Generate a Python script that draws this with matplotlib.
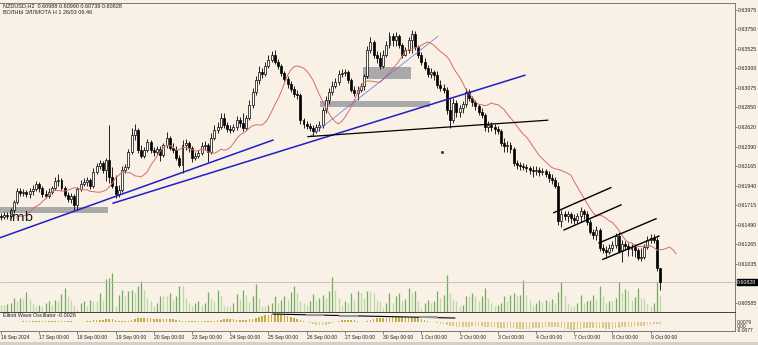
import matplotlib
matplotlib.use('Agg')
import matplotlib.pyplot as plt
import numpy as np
import pandas as pd
from matplotlib.patches import Rectangle

plt.rcParams['font.family'] = ['Liberation Sans', 'DejaVu Sans']

# NZDUSD H2, 16 Sep 2024 00:00 .. 9 Oct 2024 06:00 (12 bars a day)
opens = [
    .6159, .6158, .6160, .6159, .6166, .6175, .6188, .6186, .6187, .6185, .6188, .6190,
    .6196, .6192, .6185, .6182, .6187, .6192, .6200, .6201, .6192, .6183, .6179, .6182,
    .6172, .6190, .6196, .6199, .6201, .6194, .6210, .6217, .6221, .6212, .6224, .6204,
    .6194, .6185, .6189, .6212, .6216, .6233, .6253, .6259, .6236, .6229, .6236, .6245,
    .6236, .6233, .6237, .6230, .6241, .6249, .6238, .6236, .6226, .6218, .6241, .6244,
    .6238, .6226, .6229, .6232, .6240, .6241, .6233, .6249, .6259, .6262, .6273, .6264,
    .6260, .6259, .6262, .6270, .6267, .6261, .6273, .6288, .6303, .6317, .6326, .6323,
    .6333, .6340, .6345, .6337, .6333, .6325, .6318, .6312, .6306, .6300, .6299, .6270,
    .6266, .6263, .6261, .6258, .6262, .6264, .6282, .6293, .6303, .6310, .6314, .6323,
    .6325, .6326, .6317, .6305, .6302, .6305, .6310, .6321, .6351, .6361, .6345, .6342,
    .6333, .6345, .6357, .6367, .6363, .6367, .6357, .6345, .6351, .6363, .6370, .6355,
    .6345, .6337, .6330, .6323, .6326, .6322, .6311, .6307, .6305, .6282, .6270, .6290,
    .6280, .6284, .6289, .6303, .6296, .6291, .6286, .6280, .6276, .6262, .6264, .6262,
    .6260, .6258, .6244, .6240, .6241, .6237, .6221, .6218, .6217, .6216, .6215, .6212,
    .6211, .6212, .6210, .6211, .6208, .6203, .6201, .6194, .6153, .6162, .6159, .6162,
    .6157, .6155, .6159, .6165, .6162, .6152, .6141, .6137, .6143, .6122, .6120, .6118,
    .6122, .6126, .6136, .6119, .6127, .6124, .6121, .6123, .6120, .6111, .6112, .6123,
    .6131, .6134, .6131, .60988,
]
highs = [
    .6163, .6164, .6164, .6168, .6178, .6192, .6192, .6190, .6189, .6192, .6195, .6200,
    .6199, .6194, .6189, .6192, .6194, .6204, .6208, .6203, .6194, .6187, .6186, .6185,
    .6193, .6201, .6203, .6204, .6203, .6215, .6221, .6224, .6223, .6226, .6264, .6216,
    .6207, .6195, .6217, .6219, .6237, .6261, .6266, .6261, .6241, .6239, .6248, .6247,
    .6239, .6240, .6240, .6244, .6256, .6252, .6244, .6240, .6230, .6247, .6248, .6246,
    .6240, .6233, .6236, .6245, .6246, .6244, .6255, .6264, .6268, .6278, .6278, .6268,
    .6264, .6266, .6275, .6274, .6278, .6276, .6293, .6307, .6321, .6333, .6330, .6337,
    .6345, .6350, .6351, .6341, .6335, .6327, .6321, .6315, .6310, .6305, .6302, .6273,
    .6269, .6267, .6264, .6266, .6269, .6285, .6298, .6307, .6315, .6319, .6328, .6329,
    .6329, .6328, .6319, .6310, .6310, .6313, .6323, .6356, .6366, .6363, .6350, .6349,
    .6351, .6362, .6372, .6371, .6372, .6370, .6359, .6355, .6366, .6374, .6373, .6357,
    .6349, .6342, .6334, .6330, .6328, .6327, .6317, .6312, .6308, .6296, .6296, .6293,
    .6288, .6292, .6307, .6306, .6298, .6293, .6289, .6284, .6278, .6269, .6268, .6266,
    .6263, .6260, .6249, .6246, .6245, .6239, .6224, .6222, .6221, .6219, .6217, .6217,
    .6217, .6216, .6215, .6214, .6211, .6208, .6204, .6199, .6166, .6165, .6165, .6164,
    .6162, .6163, .6170, .6167, .6165, .6156, .6144, .6148, .6145, .6127, .6124, .6127,
    .6130, .6140, .6141, .6131, .6130, .6128, .6127, .6127, .6122, .6122, .6127, .6136,
    .6138, .6138, .6135, .60990,
]
lows = [
    .6155, .6156, .6156, .6157, .6163, .6173, .6182, .6182, .6181, .6180, .6183, .6188,
    .6187, .6181, .6180, .6180, .6185, .6189, .6194, .6189, .6181, .6175, .6174, .6166,
    .6166, .6188, .6194, .6194, .6190, .6192, .6208, .6214, .6209, .6200, .6197, .6192,
    .6180, .6181, .6187, .6209, .6214, .6231, .6247, .6232, .6226, .6226, .6233, .6232,
    .6229, .6230, .6223, .6227, .6238, .6236, .6232, .6224, .6216, .6209, .6236, .6233,
    .6222, .6224, .6226, .6230, .6236, .6222, .6231, .6247, .6255, .6260, .6261, .6256,
    .6255, .6256, .6259, .6262, .6258, .6259, .6270, .6284, .6299, .6312, .6319, .6321,
    .6330, .6337, .6335, .6329, .6321, .6315, .6307, .6303, .6297, .6295, .6266, .6261,
    .6260, .6258, .6252, .6255, .6258, .6261, .6278, .6289, .6299, .6307, .6311, .6320,
    .6321, .6313, .6303, .6298, .6293, .6303, .6305, .6319, .6348, .6342, .6336, .6329,
    .6330, .6343, .6354, .6356, .6356, .6354, .6342, .6344, .6348, .6348, .6351, .6342,
    .6334, .6328, .6320, .6319, .6317, .6307, .6304, .6302, .6277, .6261, .6267, .6274,
    .6274, .6278, .6285, .6292, .6286, .6282, .6276, .6273, .6258, .6256, .6258, .6254,
    .6254, .6240, .6233, .6233, .6232, .6217, .6214, .6212, .6212, .6210, .6208, .6204,
    .6207, .6205, .6207, .6204, .6199, .6196, .6192, .6149, .6146, .6155, .6152, .6151,
    .6150, .6151, .6152, .6156, .6149, .6138, .6133, .6131, .6119, .6116, .6111, .6115,
    .6119, .6122, .6116, .6106, .6120, .6113, .6113, .6112, .6108, .6107, .6109, .6121,
    .6128, .6128, .6096, .60739,
]
closes = [
    .6158, .6160, .6159, .6166, .6175, .6188, .6186, .6187, .6185, .6188, .6190, .6196,
    .6192, .6185, .6182, .6187, .6192, .6200, .6201, .6192, .6183, .6179, .6182, .6172,
    .6190, .6196, .6199, .6201, .6194, .6210, .6217, .6221, .6212, .6224, .6204, .6194,
    .6185, .6189, .6212, .6216, .6233, .6253, .6259, .6236, .6229, .6236, .6245, .6236,
    .6233, .6237, .6230, .6241, .6249, .6238, .6236, .6226, .6218, .6241, .6244, .6238,
    .6226, .6229, .6232, .6240, .6241, .6233, .6249, .6259, .6262, .6273, .6264, .6260,
    .6259, .6262, .6270, .6267, .6261, .6273, .6288, .6303, .6317, .6326, .6323, .6333,
    .6340, .6345, .6337, .6333, .6325, .6318, .6312, .6306, .6300, .6299, .6270, .6266,
    .6263, .6261, .6258, .6262, .6264, .6282, .6293, .6303, .6310, .6314, .6323, .6325,
    .6326, .6317, .6305, .6302, .6305, .6310, .6321, .6351, .6361, .6345, .6342, .6333,
    .6345, .6357, .6367, .6363, .6367, .6357, .6345, .6351, .6363, .6370, .6355, .6345,
    .6337, .6330, .6323, .6326, .6322, .6311, .6307, .6305, .6282, .6270, .6290, .6280,
    .6284, .6289, .6303, .6296, .6291, .6286, .6280, .6276, .6262, .6264, .6262, .6260,
    .6258, .6244, .6240, .6241, .6237, .6221, .6218, .6217, .6216, .6215, .6212, .6211,
    .6212, .6210, .6211, .6208, .6203, .6201, .6194, .6153, .6162, .6159, .6162, .6157,
    .6155, .6159, .6165, .6162, .6152, .6141, .6137, .6143, .6122, .6120, .6118, .6122,
    .6126, .6136, .6119, .6127, .6124, .6121, .6123, .6120, .6111, .6112, .6123, .6131,
    .6134, .6131, .6099, .60828,
]
volumes = [
    700, 700, 800, 900, 1400, 1100, 1400, 1300, 2000, 1300, 900, 600,
    700, 600, 900, 1100, 700, 1200, 1100, 1800, 2400, 1600, 1200, 700,
    300, 900, 1100, 600, 1200, 1100, 1100, 1900, 1200, 3300, 3400, 3900,
    600, 1700, 2200, 1600, 2100, 2200, 1900, 2600, 3100, 2200, 1400, 1100,
    600, 900, 1600, 1600, 1600, 1900, 1200, 1600, 2600, 2600, 1400, 900,
    600, 900, 1100, 700, 900, 2000, 1400, 1100, 2200, 1600, 600, 600,
    600, 900, 1800, 1300, 2200, 1700, 1000, 1600, 2800, 1400, 600, 600,
    700, 900, 1600, 900, 1200, 1600, 1200, 2000, 2600, 1900, 1100, 900,
    700, 1100, 1800, 1200, 1400, 1700, 1400, 2100, 3500, 2200, 1400, 700,
    1100, 900, 1900, 1200, 2100, 1900, 1400, 2100, 2100, 1900, 1200, 1100,
    400, 900, 1900, 900, 1600, 1900, 1200, 1300, 2400, 1900, 2100, 1100,
    400, 900, 1200, 900, 1100, 2100, 1400, 1700, 3700, 1900, 1200, 1100,
    600, 700, 1600, 1600, 1900, 1600, 1100, 1600, 2400, 1400, 900, 600,
    700, 900, 1600, 1100, 1700, 1900, 1600, 1700, 3200, 1700, 1200, 700,
    900, 1200, 1000, 1200, 1100, 1300, 900, 2000, 3000, 1600, 900, 600,
    600, 900, 1700, 900, 1100, 1200, 1700, 1300, 2600, 1600, 900, 1100,
    1100, 1400, 3000, 1900, 2300, 2100, 1200, 1500, 2400, 1400, 1400, 800,
    600, 900, 3000, 1600,
]
day_labels = ['16 Sep 2024', '17 Sep 00:00', '18 Sep 00:00', '19 Sep 00:00',
              '20 Sep 00:00', '23 Sep 00:00', '24 Sep 00:00', '25 Sep 00:00',
              '26 Sep 00:00', '27 Sep 00:00', '30 Sep 00:00', '1 Oct 00:00',
              '2 Oct 00:00', '3 Oct 00:00', '4 Oct 00:00', '7 Oct 00:00',
              '8 Oct 00:00', '9 Oct 00:00']
price_ticks = [0.63975, 0.63750, 0.63525, 0.63300, 0.63075, 0.62850, 0.62620,
               0.62390, 0.62165, 0.61940, 0.61715, 0.61490, 0.61265, 0.61035,
               0.60585]

bg = '#f9f0e6'
W, H = 758, 345


def box(x0, y0, x1, y1):
    # pixel box -> figure fraction
    return [x0 / W, 1 - y1 / H, (x1 - x0) / W, (y1 - y0) / H]


fig = plt.figure(figsize=(W / 100, H / 100), dpi=100, facecolor=bg)
vax = fig.add_axes(box(0, 3, 735, 312), facecolor=bg)
ax = fig.add_axes(box(0, 3, 735, 312), facecolor='none', sharex=vax)
osc = fig.add_axes(box(0, 312, 735, 331), facecolor=bg, sharex=vax)

o, h, l, c = map(np.array, (opens, highs, lows, closes))
v = np.array(volumes)
idx = np.arange(len(c))

# volumes at the bottom of the main window
vcol = np.where(np.r_[0, np.diff(v)] > 0, '#74ad5f', '#b9dba6')
vax.vlines(idx, 0, v, colors=vcol, lw=0.9)
vax.set_ylim(0, 30900)
vax.axis('off')

ax.set_xlim(-0.31, 230.5)
ax.set_ylim(0.60481, 0.64056)

# bid line
ax.axhline(c[-1], color='#bdbdbd', lw=0.6, zorder=1)

# zones
for x0, y0, w, hh in [(-0.31, 0.6163, 33.9, 0.0007), (100.2, 0.6285, 34.5, 0.0007),
                      (113.7, 0.6318, 15.0, 0.0014)]:
    ax.add_patch(Rectangle((x0, y0), w, hh, color='#a9a9a9', lw=0, zorder=1.5))

# candles
up = c >= o
ax.vlines(idx, l, h, color='black', lw=0.6, zorder=3)
ax.bar(idx, np.maximum(np.abs(c - o), 0.00003), bottom=np.minimum(o, c), width=0.62,
       color=np.where(up, 'white', 'black'), edgecolor='black', lw=0.5, zorder=4)

# moving average, period 8, shifted 5 bars
ma = pd.Series(c).rolling(8, min_periods=1).mean()
ax.plot(idx + 5, ma, color='#d46e68', lw=0.7, zorder=5)

# trend lines
ax.plot([-0.31, 85.4], [0.6134, 0.6247], color='#1f1fc4', lw=1.1, zorder=6)
ax.plot([35.2, 164.5], [0.6174, 0.6322], color='#1f1fc4', lw=1.1, zorder=6)
ax.plot([97.0, 137.2], [0.6251, 0.6367], color='#6a6ad6', lw=0.5, zorder=6)
ax.plot([96.4, 171.7], [0.6251, 0.6270], color='black', lw=0.9, zorder=6)
for x0, p0, x1, p1 in [(173.6, 0.6163, 191.5, 0.6192), (176.8, 0.6143, 194.7, 0.6172),
                       (187.8, 0.6128, 205.7, 0.6156), (189.0, 0.6109, 206.6, 0.6136)]:
    ax.plot([x0, x1], [p0, p1], color='black', lw=1.0, zorder=6)
ax.plot([138.5], [0.6233], marker='s', ms=1, color='#333333', zorder=6)
ax.text(2.5, 0.61534, 'lmb', fontsize=9.5, family='DejaVu Sans', color='#1a1a1a',
        va='baseline', zorder=7)

# price scale
ax.yaxis.tick_right()
ax.set_yticks(price_ticks)
ax.set_yticklabels([f'{p:.5f}' for p in price_ticks])
ax.tick_params(axis='y', length=1.5, width=0.5, colors='#555555', labelcolor='#222222',
               labelsize=3.8, pad=0.6)
ax.tick_params(axis='x', bottom=False, labelbottom=False)
ax.annotate(f'{c[-1]:.5f}', xy=(1.0, c[-1]), xycoords=('axes fraction', 'data'),
            xytext=(1.6, 0), textcoords='offset points', ha='left', va='center',
            fontsize=3.8, color='white',
            bbox=dict(boxstyle='square,pad=0.12', fc='black', ec='black'))
for s in ['top', 'right', 'bottom']:
    ax.spines[s].set_color('#7a7a7a')
    ax.spines[s].set_linewidth(0.7)
ax.spines['left'].set_visible(False)
ax.spines['bottom'].set_color('#404040')

# Elliott wave oscillator
med = pd.Series((h + l) / 2)
ewo = (med.rolling(5, min_periods=1).mean() - med.rolling(35, min_periods=1).mean()).values
osc.bar(idx, ewo, width=0.5, color=np.where(ewo >= 0, '#c4ac45', '#d9ca8c'))
osc.set_ylim(-0.0079, 0.0088)
osc.plot([85.4, 142.5], [0.0070, 0.0035], color='black', lw=0.8)
for x0, x1, yv in [(96.0, 101.0, 0.0062), (106.4, 111.8, 0.0053), (131.6, 136.9, 0.0044)]:
    osc.plot([x0, x1], [yv, yv], color='#9a9a9a', lw=1.5)
osc.text(0.004, 0.79, 'Elliott Wave Oscillator -0.0026', transform=osc.transAxes,
         fontsize=3.9, va='center', color='#222222')
osc.set_yticks([])
osc.set_xticks(np.arange(0, len(c), 12))
osc.set_xticklabels(day_labels)
osc.tick_params(axis='x', length=2, width=0.5, colors='#555555', labelcolor='#222222',
                labelsize=3.6, pad=1)
for lab in osc.get_xticklabels():
    lab.set_ha('left')
for s in ['top', 'right', 'bottom']:
    osc.spines[s].set_color('#7a7a7a')
    osc.spines[s].set_linewidth(0.7)
osc.spines['top'].set_color('#404040')
osc.spines['left'].set_visible(False)

for txt, yp in [('0.0079', 323), ('0.00', 327), ('-0.0077', 331)]:
    fig.text(737 / W, 1 - yp / H, txt, fontsize=3.5, va='center', color='#222222')

fig.text(3 / W, 1 - 6 / H, 'NZDUSD,H2  0.60988 0.60990 0.60739 0.60828', fontsize=4.0,
         va='center', color='#222222')
fig.text(3 / W, 1 - 12 / H, 'ВОЛНЫ ЭЛЛИОТА H 1 26/03 06:46', fontsize=4.0,
         va='center', color='#222222')

fig.patches.append(Rectangle((0, 0), 1, 3 / H, transform=fig.transFigure,
                             color='#d4d0c8', lw=0))

fig.savefig('out.png', dpi=100, facecolor=bg)
